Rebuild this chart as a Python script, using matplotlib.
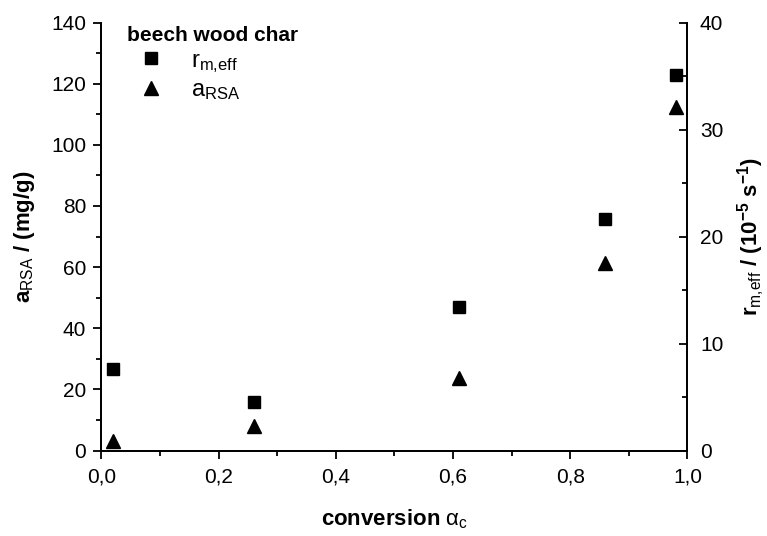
import matplotlib
matplotlib.use("Agg")
import matplotlib.pyplot as plt
from matplotlib.ticker import FuncFormatter, MultipleLocator
import numpy as np

# Data
CONVERSION = np.array([0.02, 0.26, 0.61, 0.86, 0.98])
A_RSA = np.array([3.2, 8.0, 23.8, 61.4, 112.5])          # mg/g, left axis
R_M_EFF = np.array([7.6, 4.56, 13.4, 21.6, 35.1])        # 1e-5 1/s, right axis

# Style
plt.rcParams.update({
    "font.family": "Liberation Sans",
    "font.size": 15,
    "mathtext.fontset": "custom",
    "mathtext.rm": "Liberation Sans",
    "mathtext.it": "Liberation Sans:italic",
    "mathtext.bf": "Liberation Sans:bold",
})

comma = FuncFormatter(lambda v, p: f"{v:.1f}".replace(".", ","))

fig = plt.figure(figsize=(7.67, 5.36), dpi=100)
ax = fig.add_axes([0.1323, 0.1595, 0.764, 0.7985])
ax2 = ax.twinx()

tri, = ax.plot(CONVERSION, A_RSA, linestyle="none", marker="^",
               markersize=10, color="black", label=r"a$_{\rm RSA}$")
sq, = ax2.plot(CONVERSION, R_M_EFF, linestyle="none", marker="s",
               markersize=8, color="black", label=r"r$_{\rm m{,}eff}$")

ax.set_xlim(0, 1.0)
ax.set_ylim(0, 140)
ax2.set_ylim(0, 40)

ax.xaxis.set_major_locator(MultipleLocator(0.2))
ax.xaxis.set_minor_locator(MultipleLocator(0.1))
ax.xaxis.set_major_formatter(comma)
ax.yaxis.set_major_locator(MultipleLocator(20))
ax.yaxis.set_minor_locator(MultipleLocator(10))
ax2.yaxis.set_major_locator(MultipleLocator(10))
ax2.yaxis.set_minor_locator(MultipleLocator(5))

ax.tick_params(which="major", direction="out", length=6, width=1.3, pad=5)
ax.tick_params(which="minor", direction="out", length=3.5, width=1.3)
ax.tick_params(axis="x", which="major", pad=6)
ax2.tick_params(which="major", direction="in", length=6, width=1.3, pad=9)
ax2.tick_params(which="minor", direction="in", length=3.5, width=1.3)

for a in (ax, ax2):
    a.spines["top"].set_visible(False)
    for s in ("left", "right", "bottom"):
        a.spines[s].set_linewidth(1.3)

ax.set_xlabel(r"conversion $\mathrm{\alpha}_{\rm c}$", fontweight="bold",
              fontsize=16, labelpad=15)
ax.set_ylabel(r"$\mathbf{a}_{\rm RSA}$ / (mg/g)", fontweight="bold",
              fontsize=16, labelpad=10)
ax2.set_ylabel(r"$\mathbf{r}_{\rm m{,}eff}$ / (10$^{\mathbf{-5}}$ s$^{\mathbf{-1}}$)",
               fontweight="bold", fontsize=16, rotation=90, labelpad=9)

leg = ax.legend(handles=[sq, tri], title="beech wood char", loc="upper left",
                frameon=False, bbox_to_anchor=(0.02, 1.025), handletextpad=0.7,
                borderaxespad=0.2, labelspacing=0.2, fontsize=17,
                title_fontsize=15)
leg.get_title().set_fontweight("bold")
leg._legend_box.align = "left"

fig.savefig("out.png", dpi=100)
